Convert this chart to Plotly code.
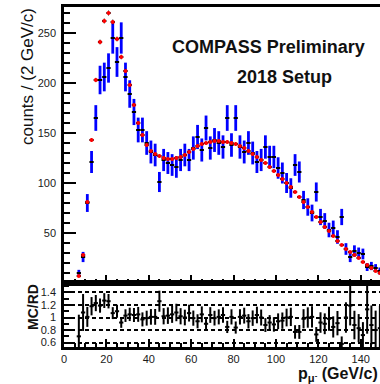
import numpy as np
import plotly.graph_objects as go

# bin centres (2 GeV/c bins)
p_bins = [7, 9, 11, 13, 15, 17, 19, 21, 23, 25, 27, 29, 31, 33, 35, 37, 39, 41, 43, 45,
          47, 49, 51, 53, 55, 57, 59, 61, 63, 65, 67, 69, 71, 73, 75, 77, 79, 81, 83, 85,
          87, 89, 91, 93, 95, 97, 99, 101, 103, 105, 107, 109, 111, 113, 115, 117, 119, 121, 123, 125,
          127, 129, 131, 133, 135, 137, 139, 141, 143, 145, 147, 149]

# Monte Carlo (red)
mc_counts = [7, 28, 81, 143, 203, 241, 262, 270, 261, 244, 226, 212, 198, 178, 160, 148, 138, 132, 129, 127,
             125, 124, 124, 125, 126, 128, 131, 134, 137, 139, 140, 141, 142, 142, 141, 141, 140, 139, 137, 135,
             132, 129, 126, 123, 120, 116, 112, 108, 104, 100, 96, 91, 86, 81, 76, 71, 66, 61, 56, 52,
             47, 42, 38, 34, 31, 28, 25, 21, 18, 15, 12, 10]

# Real data (blue)
rd_counts = [10, 26, 80, 121, 165, 203, 206, 215, 245, 221, 245, 206, 189, 171, 153, 153, 140, 131, 128, 101,
             123, 120, 118, 116, 123, 128, 123, 135, 146, 133, 155, 135, 143, 140, 136, 165, 138, 165, 136, 131,
             140, 130, 121, 123, 136, 126, 126, 115, 110, 100, 95, 118, 111, 83, 76, 70, 91, 66, 62, 53,
             55, 46, 66, 34, 26, 32, 30, 29, 16, 17, 15, 12]

# MC/RD ratio
ratio = [0.70, 1.08, 1.01, 1.18, 1.23, 1.19, 1.27, 1.26, 1.07, 1.10, 0.92, 1.03, 1.05, 1.04, 1.05, 0.97, 0.99, 1.01, 1.01, 1.26,
         1.02, 1.03, 1.05, 1.08, 1.02, 1.00, 1.07, 0.99, 0.94, 1.05, 0.90, 1.04, 0.99, 1.01, 1.04, 0.85, 1.01, 0.84, 1.01, 1.03,
         0.94, 0.99, 1.04, 1.00, 0.88, 0.92, 0.89, 0.94, 0.95, 1.00, 1.01, 0.77, 0.77, 0.98, 1.00, 1.01, 0.73, 0.92, 0.90, 0.98,
         0.85, 0.91, 0.58, 1.00, 1.19, 0.88, 0.83, 0.72, 1.13, 0.88, 0.80, 0.83]

ratio_levels = [0.6, 0.8, 1.0, 1.2, 1.4]
ratio_labels = ["0.6", "0.8", "1", "1.2", "1.4"]
main_ticks = [50, 100, 150, 200, 250]
x_ticks = [0, 20, 40, 60, 80, 100, 120, 140]

x = np.array(p_bins, dtype=float)
mc = np.array(mc_counts, dtype=float)
rd = np.array(rd_counts, dtype=float)
r = np.array(ratio, dtype=float)
half = np.ones_like(x)
rd_err = np.sqrt(rd)
mc_err = np.sqrt(mc) * 0.15
r_err = r * np.sqrt(1.0 / rd + 1.0 / mc)

fig = go.Figure()

fig.add_trace(go.Scatter(
    x=x, y=rd, mode="markers", marker=dict(size=1, color="black"),
    error_y=dict(type="data", array=rd_err, color="#0000ff", thickness=2.8, width=0),
    error_x=dict(type="data", array=half, color="black", thickness=2, width=0),
    xaxis="x", yaxis="y", showlegend=False, cliponaxis=True))

fig.add_trace(go.Scatter(
    x=x, y=mc, mode="markers", marker=dict(size=4, color="#ff0000"),
    error_y=dict(type="data", array=mc_err, color="black", thickness=1, width=0),
    error_x=dict(type="data", array=half, color="black", thickness=2, width=0),
    xaxis="x", yaxis="y", showlegend=False))

fig.add_trace(go.Scatter(
    x=x, y=r, mode="markers", marker=dict(size=1, color="black"),
    error_y=dict(type="data", array=r_err, color="black", thickness=2, width=0),
    error_x=dict(type="data", array=half, color="black", thickness=2, width=0),
    xaxis="x2", yaxis="y2", showlegend=False))

tickfont = dict(family="Liberation Sans, Arial", size=11, color="#1a1a1a")
split = (347 - 283) / 340.0

fig.update_layout(
    width=380, height=384,
    margin=dict(l=64, r=0, t=7, b=37),
    paper_bgcolor="white", plot_bgcolor="white",
    xaxis=dict(domain=[0, 1], range=[0, 149.06], anchor="y",
               showticklabels=False, ticks="inside", tickvals=x_ticks, ticklen=8,
               tickwidth=2, tickcolor="black",
               minor=dict(dtick=5, ticks="inside", ticklen=4, tickwidth=2, tickcolor="black"),
               showline=True, linewidth=2.5, linecolor="black", mirror=True,
               showgrid=False, zeroline=False),
    yaxis=dict(domain=[split, 1], range=[0, 276], anchor="x",
               tickvals=main_ticks, ticks="inside", ticklen=12, tickwidth=2, tickcolor="black",
               minor=dict(dtick=10, ticks="inside", ticklen=6, tickwidth=2, tickcolor="black"),
               tickfont=tickfont, ticklabelstandoff=3,
               showline=True, linewidth=2.5, linecolor="black",
               showgrid=False, zeroline=False),
    xaxis2=dict(domain=[0, 1], range=[0, 149.06], anchor="y2",
                tickvals=x_ticks, ticks="inside", ticklen=8, tickwidth=2, tickcolor="black",
                minor=dict(dtick=5, ticks="inside", ticklen=4, tickwidth=2, tickcolor="black"),
                tickfont=tickfont,
                showline=True, linewidth=2.5, linecolor="black", mirror=True,
                showgrid=False, zeroline=False),
    yaxis2=dict(domain=[0, split], range=[0.53, 1.55], anchor="x2",
                tickvals=ratio_levels, ticktext=ratio_labels, ticks="inside", ticklen=10,
                tickwidth=2, tickcolor="black",
                minor=dict(dtick=0.1, ticks="inside", ticklen=5, tickwidth=2, tickcolor="black"),
                tickfont=tickfont, ticklabelstandoff=3,
                showline=True, linewidth=2.5, linecolor="black",
                showgrid=True, gridcolor="black", gridwidth=1.5, griddash="4px,3px",
                zeroline=False),
)

def px(xp):
    return (xp - 64) / 316.0

def py(yp):
    return (347 - yp) / 340.0

annotations = [
    dict(text="counts / (2 GeV/c)", x=px(27), y=py(77), textangle=-90,
         font=dict(family="Liberation Sans, Arial", size=17, color="#111")),
    dict(text="<b>MC/RD</b>", x=px(33), y=py(307), textangle=-90,
         font=dict(family="Liberation Sans, Arial", size=14, color="#111")),
    dict(text="<b>COMPASS Preliminary</b>", x=px(268), y=py(47),
         font=dict(family="Liberation Sans, Arial", size=18, color="#111")),
    dict(text="<b>2018 Setup</b>", x=px(284.5), y=py(77),
         font=dict(family="Liberation Sans, Arial", size=18, color="#111")),
    dict(text="<b>p<sub>μ<sup>-</sup></sub> (GeV/c)</b>", x=1.0, y=py(374), xanchor="right",
         font=dict(family="Liberation Sans, Arial", size=16, color="#111")),
]
for a in annotations:
    a.setdefault("xanchor", "center")
    a.update(xref="paper", yref="paper", showarrow=False, yanchor="middle")
fig.update_layout(annotations=annotations)

fig.write_html("out.html")
